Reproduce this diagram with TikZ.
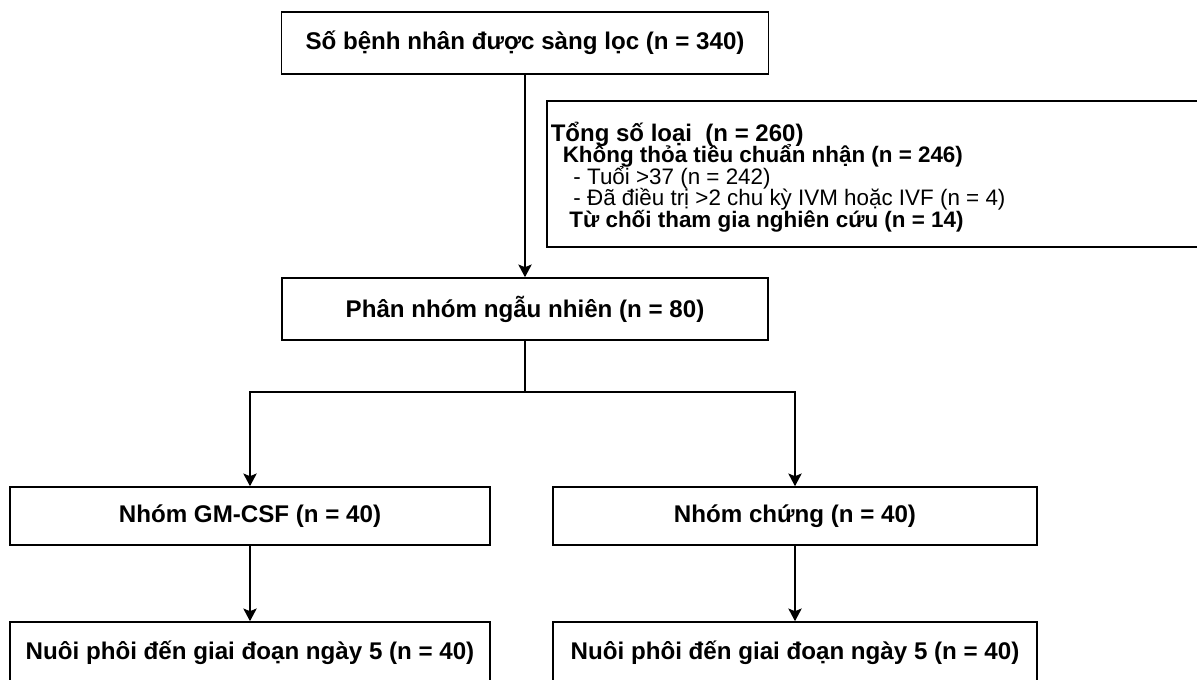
\documentclass[tikz,border=0pt]{standalone}
\usepackage{fontspec}
\setmainfont{Liberation Sans}
\usetikzlibrary{arrows.meta}
\newcommand\exfont{\fontsize{16.8}{16.1}\selectfont\lineskiplimit=-20pt\relax\lineskip=0pt\relax}

\begin{document}
\begin{tikzpicture}[->,>={Stealth[length=9.5pt,width=10pt,inset=2pt]},line width=1.2pt,x=0.75pt,y=-0.75pt]
    \tikzstyle{box}=[draw, rectangle, inner sep=0pt, minimum height=46.5pt, font=\bfseries\fontsize{18.1}{20}\selectfont, text=black]
    \tikzstyle{exbox}=[draw, rectangle, inner sep=0pt, anchor=north west, minimum height=109.5pt, minimum width=495pt]

    \useasboundingbox (0,0) rectangle (1197,680);

    \node[box,minimum width=365.25pt] (screen) at (525,43)  {Số bệnh nhân được sàng lọc (n = 340)};
    \node[exbox] (excl) at (546,100) {};
    \node[anchor=north west,align=left,inner sep=0pt,font=\exfont] (excltxt) at (550,121)
      {\bfseries\fontsize{18}{16.1}\selectfont Tổng số loại~ (n = 260)\\
       \hspace*{9pt}\bfseries Không thỏa tiêu chuẩn nhận (n = 246)\\
       \hspace*{17pt}- Tuổi >37 (n = 242)\\
       \hspace*{17pt}- Đã điều trị >2 chu kỳ IVM hoặc IVF (n = 4)\\
       \hspace*{14pt}\bfseries Từ chối tham gia nghiên cứu (n = 14)};
    \node[box,minimum width=364.5pt] (rand) at (525,309)  {Phân nhóm ngẫu nhiên (n = 80)};
    \coordinate (split) at (525,392);
    \node[box,minimum width=360pt,minimum height=43.5pt] (gm)   at (250,516) {Nhóm GM-CSF (n = 40)};
    \node[box,minimum width=363pt,minimum height=43.5pt] (ctrl) at (795,516) {Nhóm chứng (n = 40)};
    \node[box,minimum width=360pt] (gmcult)   at (250,653) {Nuôi phôi đến giai đoạn ngày 5 (n = 40)};
    \node[box,minimum width=363pt] (ctrlcult) at (795,653) {Nuôi phôi đến giai đoạn ngày 5 (n = 40)};

    \draw (screen) -- (rand);
    \draw[-] (rand) -- (split);
    \draw (split) -| (gm);
    \draw (split) -| (ctrl);
    \draw (gm) -- (gmcult);
    \draw (ctrl) -- (ctrlcult);
\end{tikzpicture}
\end{document}
